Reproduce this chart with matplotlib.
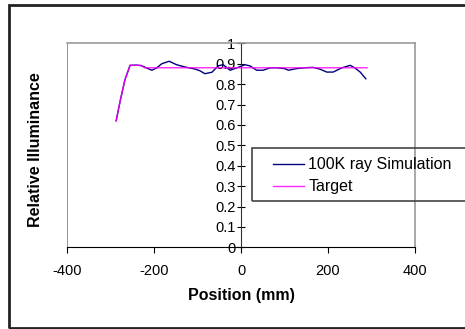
import matplotlib.pyplot as plt
from matplotlib.patches import Rectangle

plt.rcParams["font.family"] = ["Liberation Sans", "DejaVu Sans"]
plt.rcParams["axes.unicode_minus"] = False

# simulation 100K rayons
sim_x = [-287, -278, -267, -255, -240, -228, -217, -205, -194, -182, -165, -148,
         -129, -106, -95, -83, -67, -52, -41, -25, -10, 9, 21, 36, 51, 67, 82,
         100, 109, 128, 145, 166, 182, 197, 212, 231, 251, 262, 274, 287]
sim_y = [0.62, 0.715, 0.82, 0.892, 0.893, 0.89, 0.879, 0.868, 0.879, 0.9, 0.912,
         0.895, 0.884, 0.874, 0.866, 0.851, 0.858, 0.89, 0.895, 0.868, 0.879,
         0.895, 0.889, 0.868, 0.868, 0.88, 0.88, 0.876, 0.868, 0.876, 0.88,
         0.882, 0.873, 0.859, 0.859, 0.879, 0.892, 0.879, 0.859, 0.826]

# cible
target_x = [-287, -278, -267, -255, -230, -222, 290]
target_y = [0.62, 0.715, 0.82, 0.892, 0.892, 0.88, 0.88]

xticks = [-400, -200, 0, 200, 400]
yticks = [0, 0.1, 0.2, 0.3, 0.4, 0.5, 0.6, 0.7, 0.8, 0.9, 1]
ylabels = ["0", "0.1", "0.2", "0.3", "0.4", "0.5", "0.6", "0.7", "0.8", "0.9", "1"]

fig = plt.figure(figsize=(4.65, 3.29), dpi=100)
ax = fig.add_axes([67 / 465, 1 - 247.3 / 329, 348 / 465, 204 / 329])

ax.plot(sim_x, sim_y, color="#000080", lw=1.0, label="100K ray Simulation", zorder=2)
ax.plot(target_x, target_y, color="#FF00FF", lw=1.0, label="Target", zorder=3,
        alpha=0.85)

ax.set_xlim(-400, 400)
ax.set_ylim(0, 1)
ax.set_xticks(xticks)
ax.set_yticks(yticks)
ax.set_yticklabels(ylabels)
ax.tick_params(axis="x", direction="out", length=4, labelsize=10.5, pad=8)
ax.tick_params(axis="y", direction="inout", length=6, labelsize=10.5, pad=1)

# cadre gris + axe y au centre
for s in ["top", "right"]:
    ax.spines[s].set_color("#999999")
    ax.spines[s].set_linewidth(1.2)
ax.spines["left"].set_position(("data", 0))
ax.spines["left"].set_color("#333333")
ax.spines["bottom"].set_color("black")
ax.axvline(-400, color="#999999", lw=1.5, zorder=1)

ax.set_xlabel("Position (mm)", fontsize=11.5, fontweight="bold", labelpad=7)
fig.text(35 / 465, 1 - 150 / 329, "Relative Illuminance", rotation=90,
         fontsize=11.5, fontweight="bold", ha="center", va="center")

leg = fig.legend(loc="upper left",
                 bbox_to_anchor=(262 / 465, 1 - 146 / 329),
                 bbox_transform=fig.transFigure, frameon=False, fontsize=11.5,
                 handlelength=1.9, handletextpad=0.3, labelspacing=0.45,
                 borderpad=0.2)

# boite de la legende (depasse a droite)
fig.add_artist(Rectangle((252 / 465, 1 - 200.7 / 329), 220 / 465, 52.7 / 329,
                         transform=fig.transFigure, fill=False,
                         edgecolor="#444444", lw=1.2))
# bordure exterieure
fig.add_artist(Rectangle((9 / 465, 1.5 / 329), 470 / 465, 323 / 329,
                         transform=fig.transFigure, fill=False,
                         edgecolor="#222222", lw=2))

fig.savefig("out.png", dpi=100)
